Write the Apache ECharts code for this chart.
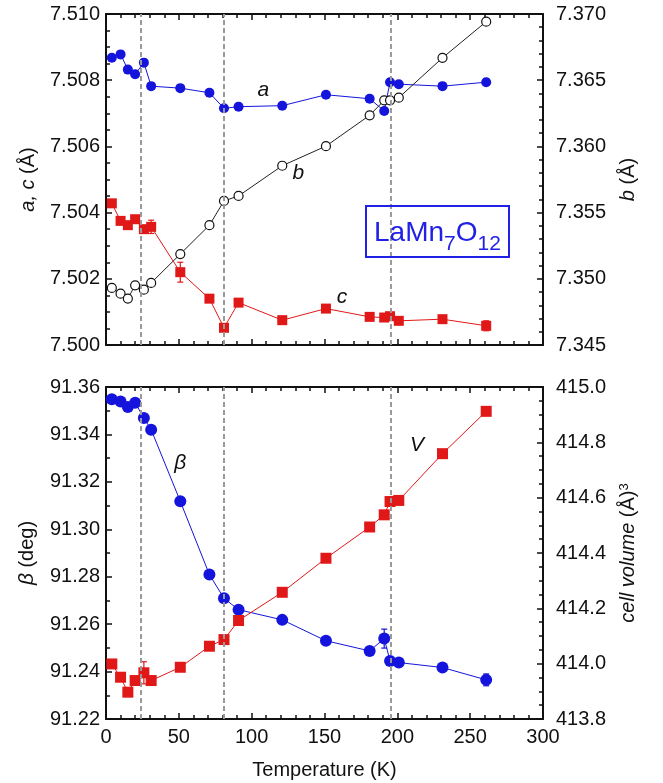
<!DOCTYPE html>
<html>
<head>
<meta charset="utf-8">
<script src="https://cdn.jsdelivr.net/npm/echarts@6/dist/echarts.min.js"></script>
<style>
html,body{margin:0;padding:0;background:#fff;}
#chart{width:663px;height:783px;}
</style>
</head>
<body>
<div id="chart"></div>
<script>
// ---- data ----
const temps = [4, 10, 15, 20, 26, 31, 51, 71, 81, 91, 121, 151, 181, 191, 195, 201, 231, 261];
const aVals = [7.50868, 7.50878, 7.50832, 7.50818, 7.50853, 7.50782, 7.50776, 7.50762, 7.50715, 7.50720, 7.50723, 7.50756, 7.50744, 7.50707, 7.50794, 7.50788, 7.50782, 7.50794];
const aErr  = [0.00008, 0.0001, 0.0001, 0.0001, 0.0001, 0.0001, 0.0001, 0.0001, 0.00005, 0.0001, 0.0001, 0.0001, 0.0001, 0.0001, 0.0001, 0.0001, 0.0001, 0.0001];
const bVals = [7.34931, 7.34888, 7.34851, 7.34951, 7.34918, 7.34969, 7.35187, 7.35405, 7.35588, 7.35626, 7.35854, 7.36002, 7.36235, 7.36348, 7.36348, 7.36368, 7.36669, 7.36942];
const cVals = [7.50428, 7.50375, 7.50362, 7.50380, 7.50350, 7.50357, 7.50220, 7.50140, 7.50052, 7.50128, 7.50075, 7.50110, 7.50085, 7.50083, 7.50087, 7.50073, 7.50078, 7.50058];
const cErr  = [0.0001, 0.0001, 0.0001, 0.0001, 0.0001, 0.0002, 0.0003, 0.0001, 0.0001, 0.0001, 0.0001, 0.0001, 0.0001, 0.0001, 0.0001, 0.0001, 0.0001, 0.00015];
const betaVals = [91.3548, 91.3539, 91.3516, 91.3534, 91.3469, 91.3420, 91.3118, 91.2809, 91.2709, 91.2661, 91.2618, 91.2530, 91.2487, 91.2539, 91.2445, 91.2438, 91.2417, 91.2365];
const betaErr  = [0.0008, 0.0008, 0.0008, 0.0008, 0.0008, 0.0008, 0.001, 0.001, 0.001, 0.001, 0.001, 0.001, 0.001, 0.004, 0.001, 0.001, 0.001, 0.0025];
const vVals = [413.999, 413.951, 413.897, 413.939, 413.967, 413.939, 413.987, 414.063, 414.087, 414.156, 414.258, 414.381, 414.494, 414.538, 414.586, 414.590, 414.759, 414.912];
const vErr  = [0, 0, 0, 0, 0.04, 0, 0, 0, 0.012, 0, 0, 0, 0, 0, 0, 0, 0, 0];
const transitions = [24, 81, 195.5];
const xTicks = {min: 0, max: 300, interval: 50};
const seriesLabels = [
  {text: 'a', series: 'a', coord: [108, 7.5077]},
  {text: 'b', series: 'b', coord: [132, 7.35799]},
  {text: 'c', series: 'c', coord: [162, 7.50145]},
  {text: 'β', series: 'beta', coord: [51, 91.328]},
  {text: 'V', series: 'V', coord: [213.5, 414.79]}
];

const FONT = "'Liberation Sans', Arial, sans-serif";
const BLUE = '#1414dc';
const RED = '#e01818';
const INK = '#111';
const BOX = '#2020e6';

const pairs = (vals) => temps.map((t, i) => [t, vals[i]]);
const errPairs = (vals, errs) => temps.map((t, i) => [t, vals[i], errs[i]]);

function xAxisCfg(grid, pos, showLabel) {
  return {
    type: 'value', gridIndex: grid, position: pos,
    min: xTicks.min, max: xTicks.max, interval: xTicks.interval,
    axisLine: {onZero: false, lineStyle: {color: INK, width: 2}},
    axisTick: {inside: true, length: 6, lineStyle: {color: INK, width: 1.5}},
    minorTick: {show: true, splitNumber: 5, length: 4, lineStyle: {color: INK, width: 1.5}},
    splitLine: {show: false},
    axisLabel: {show: showLabel, fontSize: 20, fontFamily: FONT, color: INK, margin: 8},
    name: showLabel ? 'Temperature (K)' : '',
    nameLocation: 'middle', nameGap: 41,
    nameTextStyle: {fontSize: 20, fontFamily: FONT, color: INK}
  };
}
function yAxisCfg(grid, pos, min, max, interval, minor, digits, name, gap, rich, margin) {
  return {
    type: 'value', gridIndex: grid, position: pos,
    min: min, max: max, interval: interval,
    axisLine: {onZero: false, lineStyle: {color: INK, width: 2}},
    axisTick: {inside: true, length: 6, lineStyle: {color: INK, width: 1.5}},
    minorTick: {show: true, splitNumber: minor, length: 4, lineStyle: {color: INK, width: 1.5}},
    splitLine: {show: false},
    axisLabel: {fontSize: 20, fontFamily: FONT, color: INK, margin: margin,
      formatter: v => v.toFixed(digits)},
    name: name, nameLocation: 'middle', nameGap: gap, nameRotate: 90,
    nameTextStyle: {fontSize: 20, fontFamily: FONT, color: INK, rich: rich}
  };
}

function errSeries(name, vals, errs, xi, yi, color) {
  return {
    name: name + '_err', type: 'custom', xAxisIndex: xi, yAxisIndex: yi,
    data: errPairs(vals, errs), silent: true, z: 1,
    renderItem: function (params, api) {
      const x = api.value(0), y = api.value(1), e = api.value(2);
      if (!e) return null;
      const top = api.coord([x, y + e]);
      const bot = api.coord([x, y - e]);
      const st = {stroke: color, lineWidth: 1.2};
      return {type: 'group', children: [
        {type: 'line', shape: {x1: top[0], y1: top[1], x2: bot[0], y2: bot[1]}, style: st},
        {type: 'line', shape: {x1: top[0] - 3, y1: top[1], x2: top[0] + 3, y2: top[1]}, style: st},
        {type: 'line', shape: {x1: bot[0] - 3, y1: bot[1], x2: bot[0] + 3, y2: bot[1]}, style: st}
      ]};
    }
  };
}

function labelMark(key) {
  const l = seriesLabels.filter(s => s.series === key);
  return {
    symbol: 'circle', symbolSize: 0, silent: true,
    label: {show: true, position: 'inside', fontSize: 21, fontStyle: 'italic',
      fontFamily: FONT, color: INK, formatter: p => p.name},
    data: l.map(s => ({name: s.text, coord: s.coord}))
  };
}

const vlines = {
  silent: true, symbol: ['none', 'none'], label: {show: false},
  lineStyle: {type: [5, 3], color: '#9a9a9a', width: 2},
  data: transitions.map(t => ({xAxis: t}))
};

const option = {
  animation: false,
  backgroundColor: '#fff',
  title: {
    text: '{n|LaMn}{s|7}{n|O}{s|12}',
    left: 366, top: 198,
    padding: [13, 8, 2, 8],
    borderColor: BOX, borderWidth: 2,
    textStyle: {
      fontWeight: 'normal',
      rich: {
        n: {fontSize: 28, fontWeight: 'normal', lineHeight: 44, fontFamily: FONT, color: BOX, verticalAlign: 'middle'},
        s: {fontSize: 21, fontWeight: 'normal', lineHeight: 21, fontFamily: FONT, color: BOX, verticalAlign: 'bottom'}
      }
    }
  },
  grid: [
    {left: 106, top: 14, width: 437, height: 331},
    {left: 106, top: 387, width: 437, height: 332}
  ],
  xAxis: [
    xAxisCfg(0, 'bottom', false),
    xAxisCfg(0, 'top', false),
    xAxisCfg(1, 'bottom', true),
    xAxisCfg(1, 'top', false)
  ],
  yAxis: [
    yAxisCfg(0, 'left', 7.500, 7.510, 0.002, 4, 3, '{i|a, c} (Å)', 68,
      {i: {fontStyle: 'italic', fontSize: 20, fontFamily: FONT, color: INK}}, 6),
    yAxisCfg(0, 'right', 7.345, 7.370, 0.005, 5, 3, '{i|b} (Å)', 75,
      {i: {fontStyle: 'italic', fontSize: 20, fontFamily: FONT, color: INK}}, 13),
    yAxisCfg(1, 'left', 91.22, 91.36, 0.02, 2, 2, '{i|β} (deg)', 68,
      {i: {fontStyle: 'italic', fontSize: 21, fontFamily: FONT, color: INK}}, 6),
    yAxisCfg(1, 'right', 413.8, 415.0, 0.2, 4, 1, '{i|cell volume} (Å){sup|3}', 75,
      {i: {fontStyle: 'italic', fontSize: 20, fontFamily: FONT, color: INK},
       sup: {fontSize: 13, fontFamily: FONT, color: INK, verticalAlign: 'top', lineHeight: 13}}, 13)
  ],
  series: [
    errSeries('a', aVals, aErr, 0, 0, BLUE),
    errSeries('c', cVals, cErr, 0, 0, RED),
    errSeries('beta', betaVals, betaErr, 2, 2, BLUE),
    errSeries('V', vVals, vErr, 2, 3, RED),
    {
      name: 'a', type: 'line', xAxisIndex: 0, yAxisIndex: 0, data: pairs(aVals),
      symbol: 'circle', symbolSize: 10, z: 3,
      lineStyle: {color: BLUE, width: 1}, itemStyle: {color: BLUE},
      markLine: vlines, markPoint: labelMark('a')
    },
    {
      name: 'b', type: 'line', xAxisIndex: 0, yAxisIndex: 1, data: pairs(bVals),
      symbol: 'circle', symbolSize: 9, showAllSymbol: true, z: 3,
      lineStyle: {color: '#222', width: 1},
      itemStyle: {color: '#fff', borderColor: '#111', borderWidth: 1.2},
      markPoint: labelMark('b')
    },
    {
      name: 'c', type: 'line', xAxisIndex: 0, yAxisIndex: 0, data: pairs(cVals),
      symbol: 'rect', symbolSize: 10, z: 3,
      lineStyle: {color: RED, width: 1}, itemStyle: {color: RED},
      markPoint: labelMark('c')
    },
    {
      name: 'beta', type: 'line', xAxisIndex: 2, yAxisIndex: 2, data: pairs(betaVals),
      symbol: 'circle', symbolSize: 12, z: 3,
      lineStyle: {color: BLUE, width: 1}, itemStyle: {color: BLUE},
      markLine: vlines, markPoint: labelMark('beta')
    },
    {
      name: 'V', type: 'line', xAxisIndex: 2, yAxisIndex: 3, data: pairs(vVals),
      symbol: 'rect', symbolSize: 11, z: 3,
      lineStyle: {color: RED, width: 1}, itemStyle: {color: RED},
      markPoint: labelMark('V')
    }
  ]
};

const chart = echarts.init(document.getElementById('chart'), null, {renderer: 'canvas'});
chart.setOption(option);
</script>
</body>
</html>
